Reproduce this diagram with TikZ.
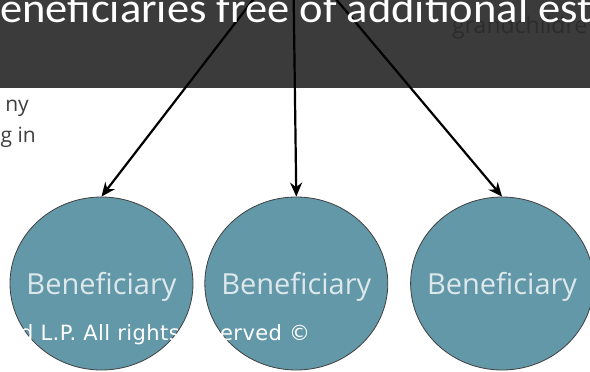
\documentclass[tikz,border=0pt]{standalone}
\usepackage{fontspec}
\usepackage{xcolor}
\usepackage{tikz}
\usetikzlibrary{arrows.meta,positioning,shapes.geometric}
\newfontfamily\titlefont[FakeStretch=1.06]{Carlito}
\newfontfamily\benfont{Open Sans}
\newfontfamily\footfont[LetterSpace=2]{DejaVu Sans}
\definecolor{bardark}{RGB}{59,59,59}
\definecolor{benfill}{RGB}{99,152,169}
\definecolor{bentext}{RGB}{221,232,236}
\definecolor{ghost}{RGB}{44,44,44}
\definecolor{sidetext}{RGB}{62,62,62}
\tikzset{
  benef/.style={ellipse, draw=black!75, line width=0.8pt, fill=benfill, minimum width=183pt, minimum height=173pt, inner sep=0pt,
    label={[benlabel]center:Beneficiary}},
  benlabel/.style={inner sep=0pt, text=bentext, font=\benfont\fontsize{29}{29}\selectfont, text depth=0pt},
  titletext/.style={anchor=base west, inner sep=0pt, text=white, font=\titlefont\fontsize{42}{42}\selectfont},
  ghosttext/.style={anchor=base west, inner sep=0pt, text=ghost, font=\benfont\fontsize{23}{23}\selectfont},
  sidenote/.style={anchor=base east, inner sep=0pt, text=sidetext, font=\benfont\fontsize{21}{21}\selectfont},
  foottext/.style={anchor=base west, inner sep=0pt, text=white, font=\footfont\fontsize{21}{21}\selectfont},
  arrow/.style={-{Stealth[length=14pt,width=12pt]}, line width=2.2pt, black}
}

\begin{document}
\begin{tikzpicture}[x=1pt, y=-1pt, node distance=12pt]
  \useasboundingbox (0,0) rectangle (590,372);
  \clip (0,0) rectangle (590,372);

  % dark caption bar
  \fill[bardark] (0,0) rectangle (590,88);
  \node[ghosttext] (ghost) at (452,33) {grandchildre};

  % cut-off text on the left
  \node[sidenote] (side1) at (29,111) {ny};
  \node[sidenote] (side2) at (36,142) {g in};

  % beneficiaries
  \node[benef] (b1) at (101.5,283.5) {};
  \node[benef, right=11pt of b1] (b2) {};
  \node[benef, right=22pt of b2] (b3) {};

  \coordinate (src) at (293,-52);
  \draw[arrow] (src) -- (b1.north);
  \draw[arrow] (src) -- (b2.north);
  \draw[arrow] (src) -- (b3.north);

  \node[titletext] (title) at (0,22) {eneficiaries free of additional est};
  \node[foottext] (foot) at (20,340) {d L.P. All rights reserved \textcopyright};
\end{tikzpicture}
\end{document}
